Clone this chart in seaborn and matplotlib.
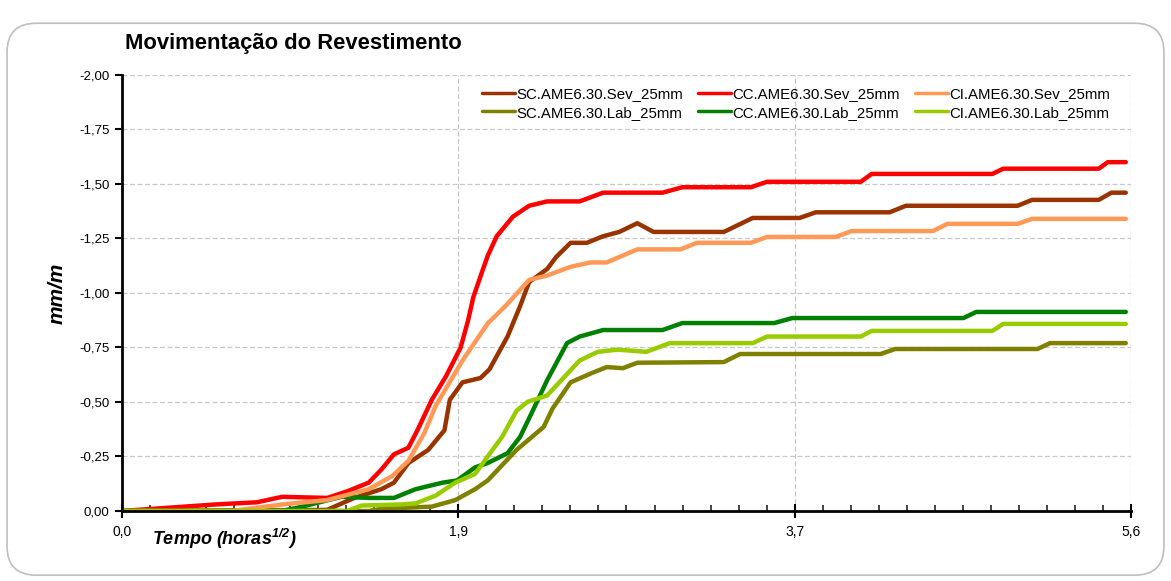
import matplotlib
matplotlib.use("Agg")
import matplotlib.pyplot as plt
import seaborn as sns
from matplotlib.patches import FancyBboxPatch
from matplotlib.ticker import FixedLocator, MultipleLocator, FuncFormatter

# SC.AME6.30.Sev_25mm
sc_sev_x = [0.0, 1.14, 1.18, 1.29, 1.44, 1.51, 1.59, 1.70, 1.79, 1.82, 1.89, 1.99, 2.04, 2.14,
            2.21, 2.26, 2.36, 2.41, 2.49, 2.58, 2.67, 2.76, 2.86, 2.95, 3.34, 3.50, 3.76, 3.85,
            4.26, 4.35, 4.97, 5.05, 5.42, 5.49, 5.57]
sc_sev_y = [0.0, -0.005, -0.02, -0.06, -0.10, -0.13, -0.22, -0.28, -0.37, -0.51, -0.59, -0.61,
            -0.65, -0.80, -0.94, -1.05, -1.11, -1.165, -1.23, -1.23, -1.26, -1.28, -1.32, -1.28,
            -1.28, -1.344, -1.344, -1.37, -1.37, -1.40, -1.40, -1.427, -1.427, -1.46, -1.46]

# CC.AME6.30.Sev_25mm
cc_sev_x = [0.0, 0.52, 0.75, 0.89, 1.14, 1.25, 1.37, 1.44, 1.51, 1.59, 1.64, 1.72, 1.80, 1.88,
            1.92, 1.95, 2.00, 2.03, 2.08, 2.17, 2.26, 2.36, 2.54, 2.67, 3.00, 3.11, 3.49, 3.58,
            4.10, 4.16, 4.83, 4.89, 5.42, 5.47, 5.57]
cc_sev_y = [0.0, -0.03, -0.04, -0.065, -0.06, -0.09, -0.13, -0.19, -0.26, -0.29, -0.37, -0.51,
            -0.62, -0.75, -0.87, -0.98, -1.10, -1.17, -1.26, -1.35, -1.40, -1.42, -1.42, -1.46,
            -1.46, -1.485, -1.485, -1.51, -1.51, -1.546, -1.546, -1.57, -1.57, -1.60, -1.60]

# CI.AME6.30.Sev_25mm
ci_sev_x = [0.0, 0.61, 0.89, 1.14, 1.37, 1.50, 1.59, 1.68, 1.74, 1.89, 2.03, 2.14, 2.26, 2.36,
            2.49, 2.60, 2.69, 2.86, 3.10, 3.19, 3.49, 3.58, 3.96, 4.05, 4.50, 4.58, 4.97, 5.05, 5.57]
ci_sev_y = [0.0, 0.0, -0.03, -0.05, -0.10, -0.16, -0.23, -0.36, -0.48, -0.69, -0.86, -0.95,
            -1.06, -1.08, -1.12, -1.14, -1.14, -1.20, -1.20, -1.23, -1.23, -1.257, -1.257,
            -1.284, -1.284, -1.317, -1.317, -1.34, -1.34]

# SC.AME6.30.Lab_25mm
sc_lab_x = [0.0, 1.37, 1.44, 1.72, 1.85, 1.96, 2.03, 2.19, 2.34, 2.39, 2.49, 2.60, 2.69, 2.78,
            2.86, 3.34, 3.43, 4.21, 4.29, 5.08, 5.15, 5.57]
sc_lab_y = [0.0, 0.0, -0.01, -0.02, -0.05, -0.10, -0.14, -0.28, -0.385, -0.47, -0.59, -0.63,
            -0.66, -0.655, -0.68, -0.683, -0.72, -0.72, -0.743, -0.743, -0.77, -0.77]

# CC.AME6.30.Lab_25mm
cc_lab_x = [0.0, 0.89, 1.00, 1.22, 1.37, 1.51, 1.63, 1.78, 1.86, 1.96, 2.03, 2.14, 2.21, 2.28,
            2.36, 2.47, 2.54, 2.67, 3.00, 3.11, 3.62, 3.72, 4.67, 4.74, 5.57]
cc_lab_y = [0.0, 0.0, -0.02, -0.065, -0.06, -0.06, -0.10, -0.13, -0.14, -0.20, -0.22, -0.265,
            -0.34, -0.46, -0.60, -0.77, -0.80, -0.83, -0.83, -0.862, -0.862, -0.885, -0.885,
            -0.913, -0.913]

# CI.AME6.30.Lab_25mm
ci_lab_x = [0.0, 1.25, 1.33, 1.55, 1.63, 1.74, 1.85, 1.96, 2.03, 2.11, 2.19, 2.25, 2.36, 2.45,
            2.54, 2.64, 2.75, 2.91, 3.04, 3.50, 3.58, 4.10, 4.16, 4.83, 4.89, 5.57]
ci_lab_y = [0.0, 0.0, -0.025, -0.03, -0.035, -0.07, -0.13, -0.17, -0.25, -0.34, -0.46, -0.50,
            -0.53, -0.61, -0.69, -0.73, -0.74, -0.73, -0.77, -0.77, -0.80, -0.80, -0.826,
            -0.826, -0.858, -0.858]

series = [
    ('SC.AME6.30.Sev_25mm', sc_sev_x, sc_sev_y, '#993300'),
    ('SC.AME6.30.Lab_25mm', sc_lab_x, sc_lab_y, '#808000'),
    ('CC.AME6.30.Sev_25mm', cc_sev_x, cc_sev_y, '#FF0000'),
    ('CC.AME6.30.Lab_25mm', cc_lab_x, cc_lab_y, '#008000'),
    ('CI.AME6.30.Sev_25mm', ci_sev_x, ci_sev_y, '#FF9955'),
    ('CI.AME6.30.Lab_25mm', ci_lab_x, ci_lab_y, '#99CC00'),
]

sns.set_style("white")
plt.rcParams['font.family'] = ['Liberation Sans', 'DejaVu Sans']
plt.rcParams['mathtext.default'] = 'regular'
plt.rcParams['text.color'] = 'black'

fig = plt.figure(figsize=(11.71, 5.81), dpi=100)
# outer rounded frame
frame = FancyBboxPatch((0.006, 0.01), 0.988, 0.95, boxstyle="round,pad=0,rounding_size=0.025",
                       transform=fig.transFigure, facecolor='none', edgecolor='#BFBFBF',
                       linewidth=1.2, mutation_aspect=2.0, zorder=-1)
fig.patches.append(frame)

ax = fig.add_axes([0.104, 0.1205, 0.862, 0.7505])
ax.set_facecolor('none')

for name, xs, ys, col in series:
    sns.lineplot(x=xs, y=ys, color=col, linewidth=3.2, label=name, ax=ax,
                 estimator=None, sort=False, solid_capstyle='round', solid_joinstyle='round')

xmax = 5.6
ax.set_xlim(0, xmax)
ax.set_ylim(0, -2)

ax.xaxis.set_major_locator(FixedLocator([0, xmax / 3, 2 * xmax / 3, xmax]))
ax.xaxis.set_minor_locator(MultipleLocator(xmax / 36))
ax.xaxis.set_major_formatter(FuncFormatter(lambda v, p: f"{v:.1f}".replace('.', ',')))
ax.yaxis.set_major_locator(MultipleLocator(0.25))
ax.yaxis.set_major_formatter(FuncFormatter(lambda v, p: f"{v:.2f}".replace('.', ',')))

ax.grid(True, which='major', color='#C8C8C8', linestyle=(0, (4, 2)), linewidth=0.9)
for s in ['top', 'right']:
    ax.spines[s].set_visible(False)
for s in ['left', 'bottom']:
    ax.spines[s].set_color('black')
    ax.spines[s].set_linewidth(2)
ax.spines['left'].set_zorder(5)
ax.spines['bottom'].set_zorder(5)

ax.tick_params(axis='y', which='major', direction='out', length=5, width=1.5, left=True,
               labelsize=9.5, pad=4, colors='black')
ax.tick_params(axis='x', which='major', direction='inout', length=10, width=1.5, bottom=True,
               labelsize=10, pad=5, colors='black')
ax.tick_params(axis='x', which='minor', direction='in', length=4, width=1.2, bottom=True)

ax.set_ylabel('mm/m', fontsize=15, fontweight='bold', fontstyle='italic', labelpad=9,
              color='black')
ax.text(0.03, -0.063, r'Tempo (horas$^{1/2}$)', transform=ax.transAxes, fontsize=13,
        fontweight='bold', fontstyle='italic', ha='left', va='center', color='black')

fig.text(0.107, 0.925, 'Movimentação do Revestimento', fontsize=15.8, fontweight='bold',
         ha='left', va='center', color='black')

leg = ax.legend(loc='upper right', bbox_to_anchor=(0.993, 1.003), ncol=3, frameon=False,
                fontsize=10.8, handlelength=2.2, handletextpad=0.1, columnspacing=1.0,
                labelspacing=0.3)
for line in leg.get_lines():
    line.set_linewidth(2.5)
for t in leg.get_texts():
    t.set_color('black')

fig.savefig('out.png', dpi=100, facecolor='white')
